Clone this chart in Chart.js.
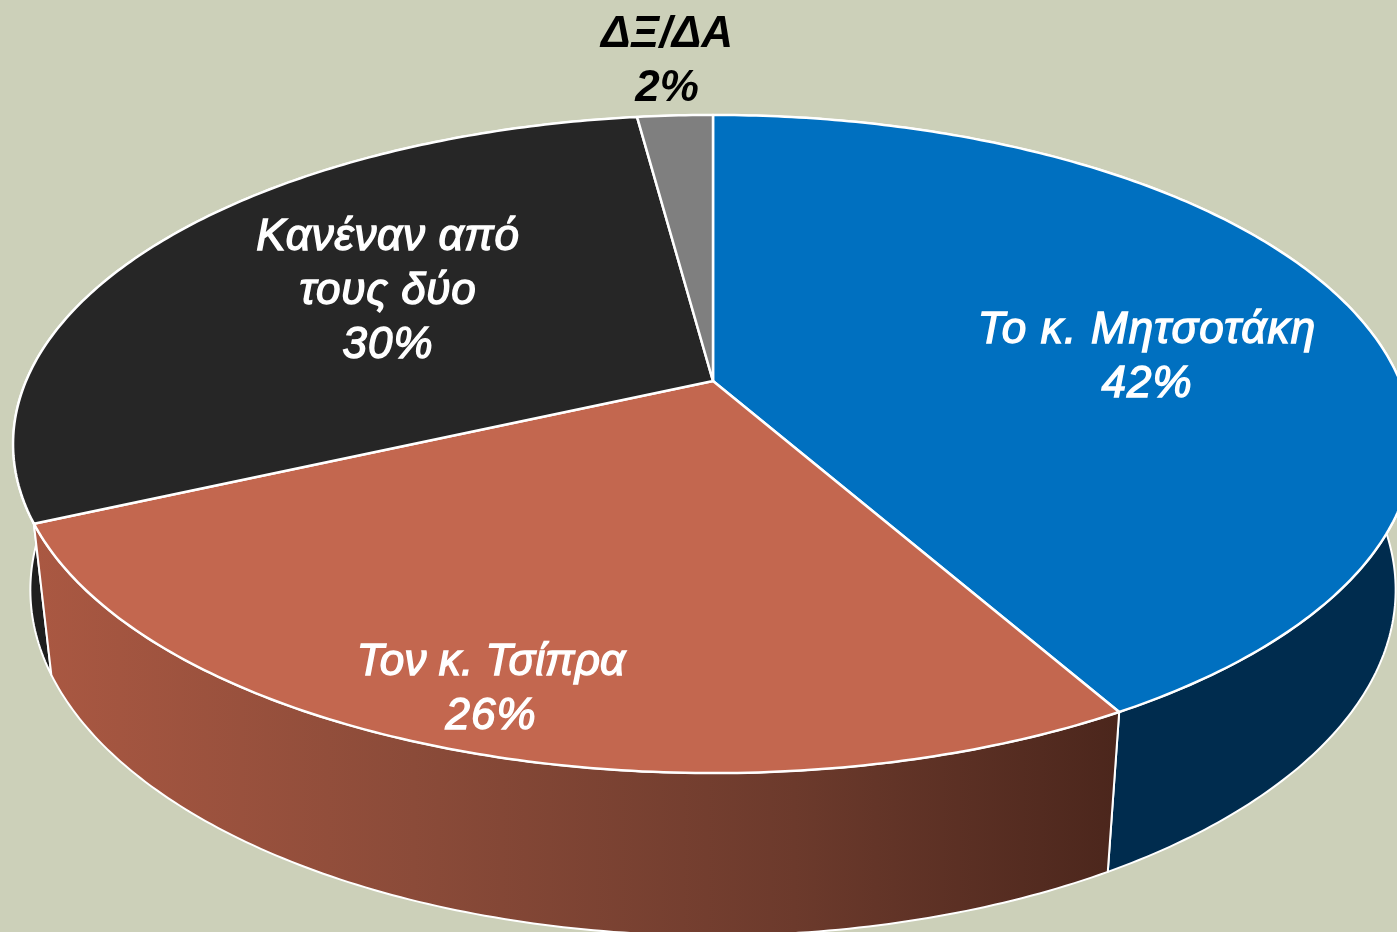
<!DOCTYPE html>
<html>
<head>
<meta charset="utf-8">
<title>Pie</title>
<script src="https://cdn.jsdelivr.net/npm/chart.js@4/dist/chart.umd.min.js"></script>
<style>
    html, body { margin: 0; padding: 0; background: #ccd0b9; overflow: hidden; }
    canvas { display: block; }
</style>
</head>
<body>
<canvas id="pieChart" width="1397" height="932"></canvas>
<script>
const categories = ["Το κ. Μητσοτάκη", "Τον κ. Τσίπρα", "Κανέναν από τους δύο", "ΔΞ/ΔΑ"];
// slice sizes, the printed labels are the rounded ones
const shares = [41.8, 26.4, 29.7, 2.1];
const topColors = ["#0070c0", "#c3674f", "#262626", "#7f7f7f"];
const sideColors = ["#002c4e", "gradient", "#1e1e1e", "#5f5f5f"];

// label lines are broken by hand like in the original, x is line centre, y are baselines
const labelLines = [["Το κ. Μητσοτάκη", "42%"], ["Τον κ. Τσίπρα", "26%"], ["Κανέναν από", "τους δύο", "30%"], ["ΔΞ/ΔΑ", "2%"]];
const labelSpacing = [[1.2, 1], [0.1, 1], [0.7, 0.7, 1], [0, 0]];
const labelX = [1147, 491, 388, 667];
const labelY = [343, 675, 250, 47];
const labelColors = ["#ffffff", "#ffffff", "#ffffff", "#000000"];
const labelWeights = ["normal", "normal", "normal", "bold"];

// perspective of the tilted disc: the pie centre is not the ellipse centre
const view = { cx: 713, cy: 381, a: 687, b: 317, k: 0.1915, vx: 713, vy: 6400 };

function project(angle) {
    const w = 1 - view.k * Math.sin(angle);
    return { x: view.cx + view.a * Math.cos(angle) / w, y: view.cy + view.b * Math.sin(angle) / w };
}

function dropped(p) {
    const t = 0.0257 + (p.y - 521) * 0.0000126;
    return { x: p.x + (view.vx - p.x) * t, y: p.y + (view.vy - p.y) * t };
}

function edgePoints(arc) {
    const pts = [];
    const steps = Math.max(8, Math.ceil((arc.endAngle - arc.startAngle) * 80));
    for (let i = 0; i <= steps; i++) {
        pts.push(project(arc.startAngle + (arc.endAngle - arc.startAngle) * i / steps));
    }
    return pts;
}

function tracePath(ctx, pts) {
    ctx.beginPath();
    pts.forEach(function (p, i) {
        if (i === 0) ctx.moveTo(p.x, p.y);
        else ctx.lineTo(p.x, p.y);
    });
    ctx.closePath();
}

const tiltedPie = {
    id: 'tiltedPie',
    beforeDatasetDraw: function (chart, args) {
        const ctx = chart.ctx;
        const arcs = args.meta.data;
        ctx.save();
        ctx.lineJoin = 'round';
        ctx.strokeStyle = '#ffffff';

        // sides first, back ones before front ones
        [2, 3, 0, 1].forEach(function (i) {
            const top = edgePoints(arcs[i]);
            const bottom = top.map(dropped).reverse();
            tracePath(ctx, top.concat(bottom));
            if (sideColors[i] === 'gradient') {
                const g = ctx.createLinearGradient(33, 0, 1121, 0);
                g.addColorStop(0, '#aa5842');
                g.addColorStop(0.35, '#8b4b39');
                g.addColorStop(0.7, '#6c3a2c');
                g.addColorStop(1, '#4b261c');
                ctx.fillStyle = g;
            } else {
                ctx.fillStyle = sideColors[i];
            }
            ctx.fill();
            ctx.lineWidth = 2;
            ctx.stroke();
        });

        // top faces
        arcs.forEach(function (arc, i) {
            tracePath(ctx, [{ x: view.cx, y: view.cy }].concat(edgePoints(arc)));
            ctx.fillStyle = topColors[i];
            ctx.fill();
            ctx.lineWidth = 2.5;
            ctx.stroke();
        });
        ctx.restore();
        return false;
    },
    afterDraw: function (chart) {
        const ctx = chart.ctx;
        ctx.save();
        ctx.textAlign = 'center';
        ctx.textBaseline = 'alphabetic';
        labelLines.forEach(function (lines, i) {
            ctx.font = 'italic ' + labelWeights[i] + ' 44px "Liberation Sans"';
            ctx.fillStyle = labelColors[i];
            ctx.strokeStyle = labelColors[i];
            ctx.lineWidth = 1.4;
            lines.forEach(function (line, j) {
                const y = labelY[i] + j * 54;
                ctx.letterSpacing = labelSpacing[i][j] + 'px';
                ctx.fillText(line, labelX[i], y);
                if (labelWeights[i] === 'normal') ctx.strokeText(line, labelX[i], y);
            });
        });
        ctx.restore();
    }
};

new Chart(document.getElementById('pieChart'), {
    type: 'pie',
    data: {
        labels: categories,
        datasets: [{
            data: shares,
            backgroundColor: topColors,
            borderColor: '#ffffff',
            borderWidth: 2
        }]
    },
    options: {
        responsive: false,
        animation: false,
        plugins: {
            legend: { display: false },
            tooltip: { enabled: false }
        }
    },
    plugins: [tiltedPie]
});
</script>
</body>
</html>
